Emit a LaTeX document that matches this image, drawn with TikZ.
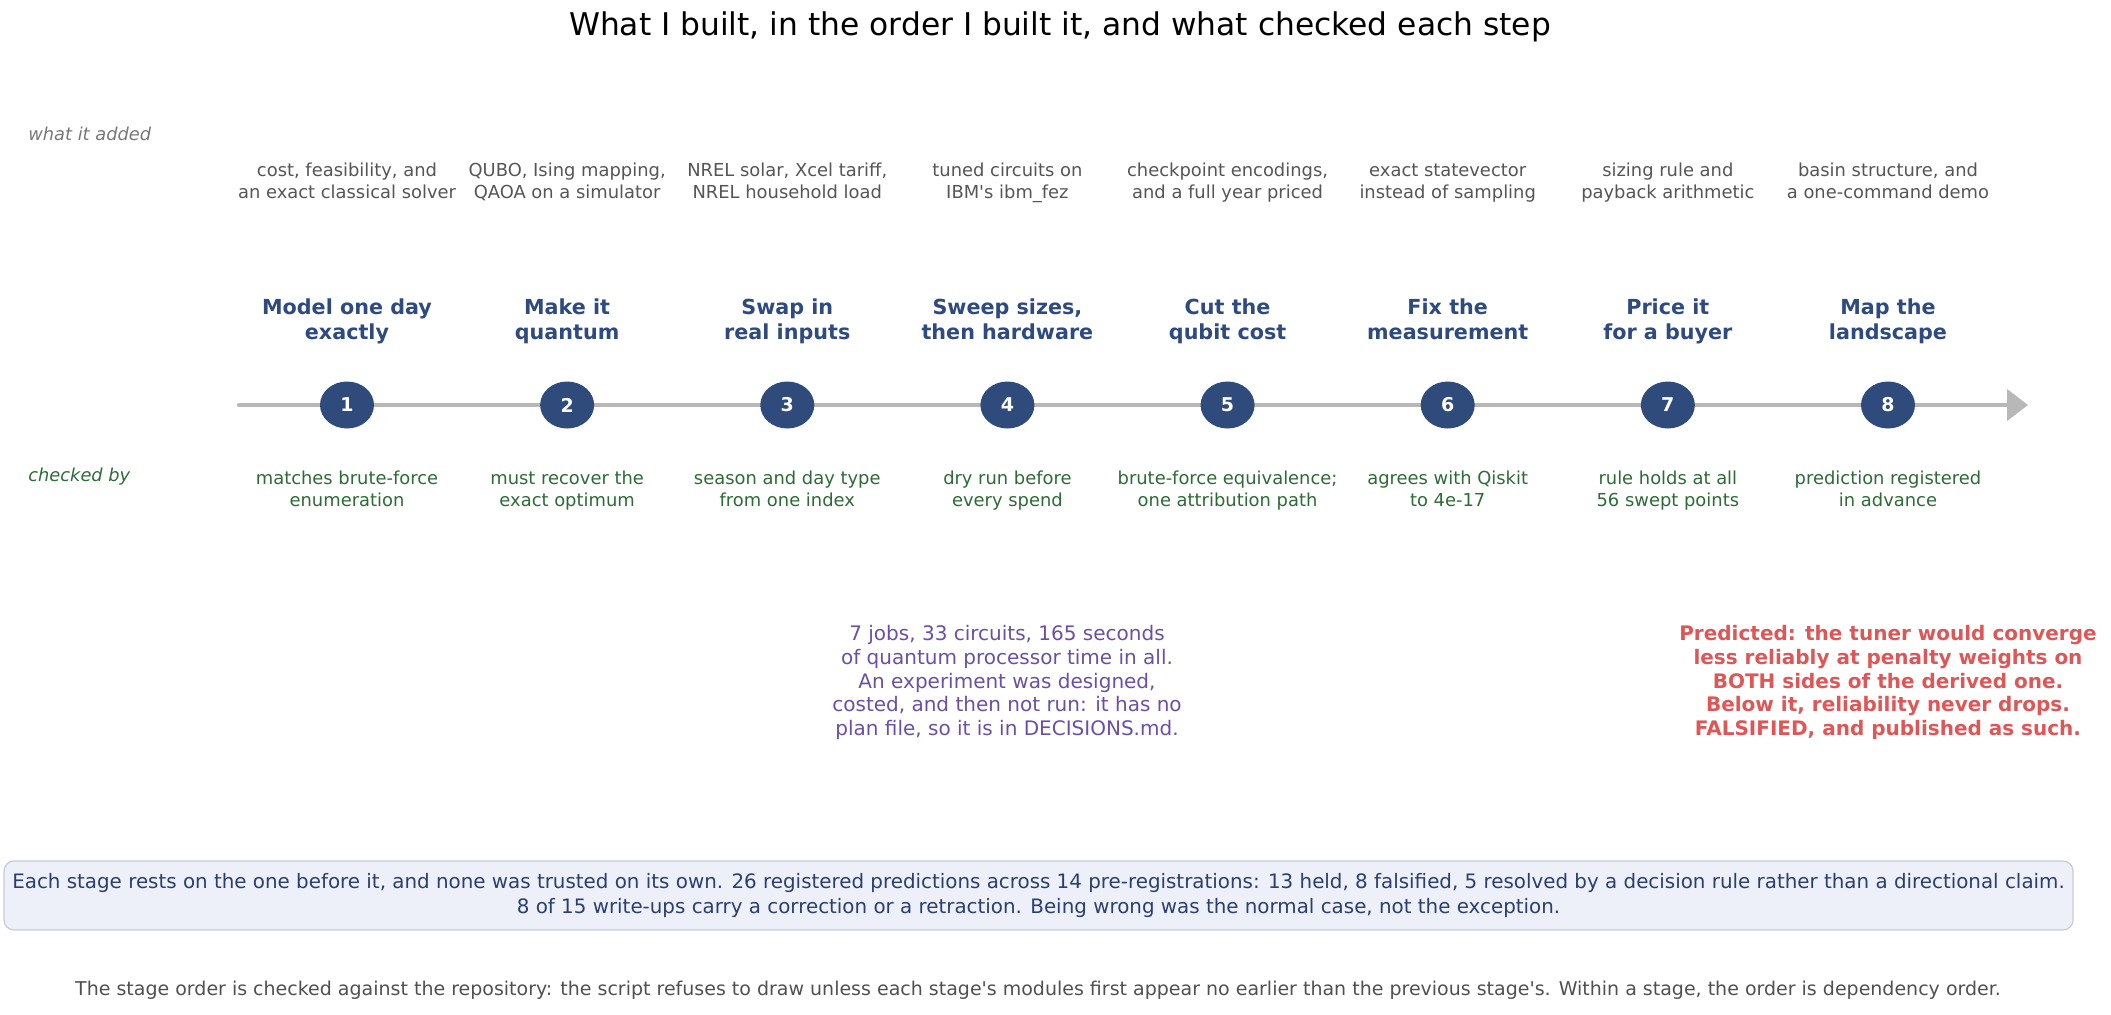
\documentclass[tikz,border=0pt]{standalone}
\usepackage{fontspec}
\setmainfont{DejaVu Sans}[Ligatures=TeXOff]
\usetikzlibrary{shapes.geometric,arrows.meta}
\definecolor{addgray}{HTML}{555555}
\definecolor{lblgray}{HTML}{777777}
\definecolor{chkgreen}{HTML}{2D6A36}
\definecolor{navy}{HTML}{2E4A7E}
\definecolor{dotnavy}{HTML}{2F4B7C}
\definecolor{linegray}{HTML}{B8B8B8}
\definecolor{purp}{HTML}{6B4FA6}
\definecolor{redc}{HTML}{E05555}
\definecolor{boxfill}{HTML}{EDF0F8}
\definecolor{boxdraw}{HTML}{C3CBDD}
\definecolor{boxtext}{HTML}{2A3F6F}
\definecolor{footgray}{HTML}{505050}
\tikzset{
  added/.style={text=addgray, align=center, inner sep=0pt, font=\fontsize{8.95pt}{10.8pt}\selectfont},
  stagetitle/.style={text=navy, align=center, inner sep=0pt, font=\bfseries\fontsize{10.35pt}{12.8pt}\selectfont},
  checked/.style={text=chkgreen, align=center, inner sep=0pt, font=\fontsize{8.95pt}{10.75pt}\selectfont},
  dot/.style={ellipse, fill=dotnavy, text=white, minimum width=27pt, minimum height=23.5pt, inner sep=0pt, font=\bfseries\fontsize{9.5pt}{11pt}\selectfont},
  sidelabel/.style={anchor=west, inner sep=0pt, font=\itshape\fontsize{8.9pt}{10.6pt}\selectfont},
  note/.style={align=center, inner sep=0pt, font=\fontsize{10pt}{11.78pt}\selectfont},
  rednote/.style={align=center, inner sep=0pt, text=redc, font=\bfseries\fontsize{10pt}{11.78pt}\selectfont},
  timeline/.style={draw=linegray, line width=2.25pt, line cap=round, -{Triangle[length=10.5pt, width=15.5pt]}},
}
\begin{document}
\begin{tikzpicture}[x=0.5pt, y=-0.5pt]
\useasboundingbox (0,0) rectangle (2111,1014);
\node[inner sep=0pt, font=\fontsize{15.65pt}{18pt}\selectfont] (title) at (1060,27) {What I built, in the order I built it, and what checked each step};
\node[sidelabel, text=lblgray] (lbladded) at (28,133.5) {what it added};
\node[sidelabel, text=chkgreen] (lblchecked) at (28,477) {checked by};
\coordinate (tstart) at (239,405);
\coordinate (tend) at (2028,405);
\draw[timeline] (tstart) -- (tend);
\foreach \i/\add/\ttl/\chk in {
  1/{cost, feasibility, and\\an exact classical solver}/{Model one day\\exactly}/{matches brute-force\\enumeration},
  2/{QUBO, Ising mapping,\\QAOA on a simulator}/{Make it\\quantum}/{must recover the\\exact optimum},
  3/{NREL solar, Xcel tariff,\\NREL household load}/{Swap in\\real inputs}/{season and day type\\from one index},
  4/{tuned circuits on\\IBM's ibm\_fez}/{Sweep sizes,\\then hardware}/{dry run before\\every spend},
  5/{checkpoint encodings,\\and a full year priced}/{Cut the\\qubit cost}/{brute-force equivalence;\\one attribution path},
  6/{exact statevector\\instead of sampling}/{Fix the\\measurement}/{agrees with Qiskit\\to 4e-17},
  7/{sizing rule and\\payback arithmetic}/{Price it\\for a buyer}/{rule holds at all\\56 swept points},
  8/{basin structure, and\\a one-command demo}/{Map the\\landscape}/{prediction registered\\in advance}} {
  \pgfmathsetmacro{\xx}{347+220.14*(\i-1)}
  \node[added] (add\i) at (\xx,183) {\strut\add\strut};
  \node[stagetitle] (ttl\i) at (\xx,321.7) {\strut\ttl\strut};
  \node[dot] (dot\i) at (\xx,405) {\i};
  \node[checked] (chk\i) at (\xx,491) {\strut\chk\strut};
}
\node[note, text=purp] (hw) at (1007,682.5) {7 jobs, 33 circuits, 165 seconds\\of quantum processor time in all.\\An experiment was designed,\\costed, and then not run: it has no\\plan file, so it is in DECISIONS.md.};
\node[rednote] (pred) at (1888,682.5) {Predicted: the tuner would converge\\less reliably at penalty weights on\\BOTH sides of the derived one.\\Below it, reliability never drops.\\FALSIFIED, and published as such.};
\node[draw=boxdraw, fill=boxfill, rounded corners=5pt, line width=0.6pt, minimum width=1034.5pt, minimum height=34.5pt, inner sep=0pt, text=boxtext, align=center, font=\fontsize{9.93pt}{12.7pt}\selectfont] (summary) at (1038.5,895.5) {Each stage rests on the one before it, and none was trusted on its own. 26 registered predictions across 14 pre-registrations: 13 held, 8 falsified, 5 resolved by a decision rule rather than a directional claim.\\8 of 15 write-ups carry a correction or a retraction. Being wrong was the normal case, not the exception.};
\node[inner sep=0pt, text=footgray, font=\fontsize{9.5pt}{11pt}\selectfont] (footer) at (1038,990) {The stage order is checked against the repository: the script refuses to draw unless each stage's modules first appear no earlier than the previous stage's. Within a stage, the order is dependency order.};
\end{tikzpicture}
\end{document}
